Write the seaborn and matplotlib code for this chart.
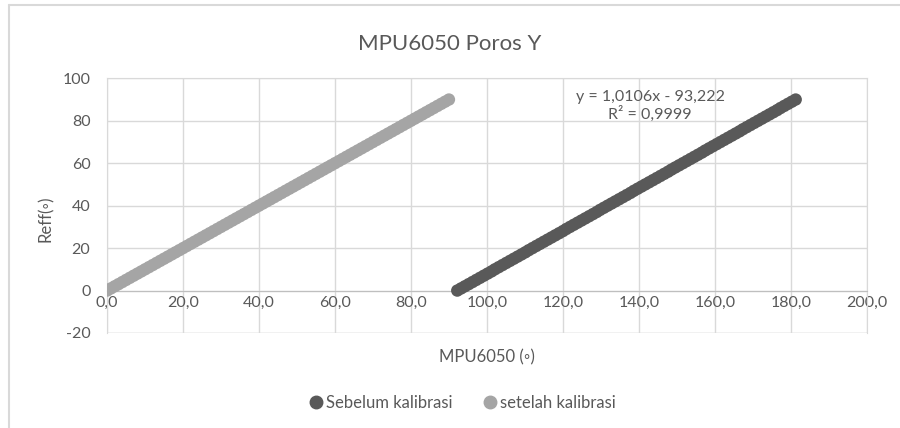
import matplotlib.pyplot as plt
import seaborn as sns
import pandas as pd
from matplotlib.lines import Line2D

# reference angle (deg)
reff = [0, 1, 2, 3, 4, 5, 6, 7, 8, 9, 10, 11, 12, 13, 14,
        15, 16, 17, 18, 19, 20, 21, 22, 23, 24, 25, 26, 27, 28, 29,
        30, 31, 32, 33, 34, 35, 36, 37, 38, 39, 40, 41, 42, 43, 44,
        45, 46, 47, 48, 49, 50, 51, 52, 53, 54, 55, 56, 57, 58, 59,
        60, 61, 62, 63, 64, 65, 66, 67, 68, 69, 70, 71, 72, 73, 74,
        75, 76, 77, 78, 79, 80, 81, 82, 83, 84, 85, 86, 87, 88, 89, 90]

# MPU6050 reading before calibration
mpu_sebelum = [92.2, 93.2, 94.2, 95.2, 96.2, 97.2, 98.2, 99.2, 100.2, 101.2,
               102.1, 103.1, 104.1, 105.1, 106.1, 107.1, 108.1, 109.1, 110.1, 111.0,
               112.0, 113.0, 114.0, 115.0, 116.0, 117.0, 118.0, 119.0, 120.0, 120.9,
               121.9, 122.9, 123.9, 124.9, 125.9, 126.9, 127.9, 128.9, 129.8, 130.8,
               131.8, 132.8, 133.8, 134.8, 135.8, 136.8, 137.8, 138.7, 139.7, 140.7,
               141.7, 142.7, 143.7, 144.7, 145.7, 146.7, 147.7, 148.6, 149.6, 150.6,
               151.6, 152.6, 153.6, 154.6, 155.6, 156.6, 157.5, 158.5, 159.5, 160.5,
               161.5, 162.5, 163.5, 164.5, 165.5, 166.5, 167.4, 168.4, 169.4, 170.4,
               171.4, 172.4, 173.4, 174.4, 175.4, 176.4, 177.3, 178.3, 179.3, 180.3, 181.3]

# MPU6050 reading after calibration
mpu_setelah = [0.0, 1.0, 2.0, 3.0, 4.0, 5.0, 6.0, 7.0, 8.0, 9.0,
               10.0, 11.0, 12.0, 13.0, 14.0, 15.0, 16.0, 17.0, 18.0, 19.0,
               20.0, 21.0, 22.0, 23.0, 24.0, 25.0, 26.0, 27.0, 28.0, 29.0,
               30.0, 31.0, 32.0, 33.0, 34.0, 35.0, 36.0, 37.0, 38.0, 39.0,
               40.0, 41.0, 42.0, 43.0, 44.0, 45.0, 46.0, 47.0, 48.0, 49.0,
               50.0, 51.0, 52.0, 53.0, 54.0, 55.0, 56.0, 57.0, 58.0, 59.0,
               60.0, 61.0, 62.0, 63.0, 64.0, 65.0, 66.0, 67.0, 68.0, 69.0,
               70.0, 71.0, 72.0, 73.0, 74.0, 75.0, 76.0, 77.0, 78.0, 79.0,
               80.0, 81.0, 82.0, 83.0, 84.0, 85.0, 86.0, 87.0, 88.0, 89.0, 90.0]

series_names = ["Sebelum kalibrasi", "setelah kalibrasi"]
colors = ["#595959", "#A5A5A5"]
x_ticks = [0, 20, 40, 60, 80, 100, 120, 140, 160, 180, 200]
y_ticks = [-20, 0, 20, 40, 60, 80, 100]

df = pd.concat([
    pd.DataFrame({"mpu": mpu_sebelum, "reff": reff, "seri": series_names[0]}),
    pd.DataFrame({"mpu": mpu_setelah, "reff": reff, "seri": series_names[1]}),
])

sns.set_style("white")
plt.rcParams["font.family"] = ["Lato", "DejaVu Sans"]
plt.rcParams["axes.unicode_minus"] = False
text_col = "#595959"
grid_col = "#D9D9D9"

fig = plt.figure(figsize=(9, 4.28), dpi=100)
ax = fig.add_axes([0.119, 0.222, 0.844, 0.595])

sns.scatterplot(data=df, x="mpu", y="reff", hue="seri", palette=colors,
                s=80, linewidth=0, ax=ax, legend=False, zorder=3)

ax.set_xlim(0, 200)
ax.set_ylim(-20, 100)
ax.set_xticks(x_ticks)
ax.set_yticks(y_ticks)
ax.set_xticklabels([f"{v:.1f}".replace(".", ",") for v in x_ticks])
ax.grid(True, color=grid_col, linewidth=1)
ax.set_axisbelow(True)
for side in ["top", "right", "left"]:
    ax.spines[side].set_color(grid_col)
ax.spines["bottom"].set_position(("data", 0))
ax.spines["bottom"].set_color("#BFBFBF")
ax.axhline(-20, color=grid_col, linewidth=1, zorder=0)
ax.tick_params(axis="both", length=0, labelsize=11.5, labelcolor=text_col)
ax.tick_params(axis="x", pad=4)
ax.tick_params(axis="y", pad=12)

ax.set_xlabel("MPU6050 (◦)", fontsize=12, color=text_col, labelpad=0)
ax.xaxis.set_label_coords(0.5, -0.065)
ax.set_ylabel("Reff(◦)", fontsize=12, color=text_col)
ax.yaxis.set_label_coords(-0.07, 0.45)

fig.suptitle("MPU6050 Poros Y", fontsize=16, color=text_col, y=0.92)

ax.text(143, 91.3, "y = 1,0106x - 93,222", ha="center", va="center",
        fontsize=11.5, color=text_col)
ax.text(143, 83.3, "R² = 0,9999", ha="center", va="center",
        fontsize=11.5, color=text_col)

handles = [Line2D([], [], marker="o", linestyle="", markersize=9,
                  markerfacecolor=c, markeredgecolor=c) for c in colors]
fig.legend(handles, series_names, loc="center", bbox_to_anchor=(0.514, 0.058),
           ncol=2, frameon=False, fontsize=12, labelcolor=text_col,
           handlelength=0.8, handletextpad=0.2, columnspacing=1.8)

# outer chart border
fig.add_artist(Line2D([0.01, 1.0], [0.988, 0.988], color=grid_col, linewidth=1.5))
fig.add_artist(Line2D([0.01, 0.01], [0.0, 0.988], color=grid_col, linewidth=1.5))

fig.savefig("out.png", dpi=100)
